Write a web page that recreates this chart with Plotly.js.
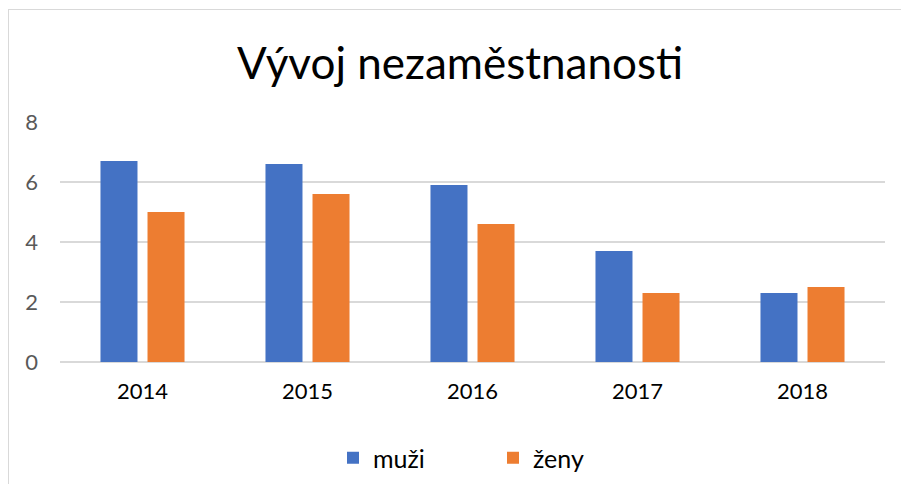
<!DOCTYPE html>
<html>
<head>
<meta charset="utf-8">
<script src="https://cdn.plot.ly/plotly-3.0.1.min.js"></script>
<style>
  html, body { margin: 0; padding: 0; background: #ffffff; overflow: hidden; }
  #wrap { position: relative; width: 901px; height: 484px; }
  #chart { position: absolute; left: 0; top: 0; width: 901px; height: 484px; }
  #frame { position: absolute; left: 8px; top: 9px; width: 1000px; height: 600px;
           border: 1.5px solid #d9d9d9; pointer-events: none; box-sizing: border-box; }
</style>
</head>
<body>
<div id="wrap">
  <div id="chart"></div>
  <div id="frame"></div>
</div>
<script>
// Data
const chartTitle = "Vývoj nezaměstnanosti";
const years = ["2014", "2015", "2016", "2017", "2018"];
const seriesNames = ["muži", "ženy"];
const muzi = [6.7, 6.6, 5.9, 3.7, 2.3];
const zeny = [5.0, 5.6, 4.6, 2.3, 2.5];
const yTicks = [0, 2, 4, 6, 8];

const FONT = "Lato, 'Open Sans', sans-serif";

const traces = [
  { type: "bar", name: seriesNames[0], x: years, y: muzi,
    marker: { color: "#4472C4" }, hoverinfo: "x+y+name" },
  { type: "bar", name: seriesNames[1], x: years, y: zeny,
    marker: { color: "#ED7D31" }, hoverinfo: "x+y+name" }
];

const layout = {
  width: 901, height: 484,
  paper_bgcolor: "#ffffff", plot_bgcolor: "#ffffff",
  margin: { l: 60, r: 15.5, t: 122, b: 122, pad: 0 },
  font: { family: FONT, color: "#000000" },
  title: {
    text: chartTitle,
    font: { family: FONT, size: 44, color: "#000000" },
    xref: "container", x: 460 / 901, xanchor: "center",
    yref: "container", y: 1 - 64 / 484, yanchor: "middle"
  },
  barmode: "group",
  bargap: 0.43,
  bargroupgap: 0.213,
  xaxis: {
    type: "category",
    showgrid: false, zeroline: false, showline: false,
    ticks: "", ticklabelstandoff: 14,
    tickfont: { family: FONT, size: 22, color: "#000000" },
    fixedrange: true
  },
  yaxis: {
    range: [0, 8],
    tickvals: yTicks, ticktext: yTicks.map(String),
    showgrid: true, gridcolor: "#d9d9d9", gridwidth: 1.5,
    zeroline: true, zerolinecolor: "#d9d9d9", zerolinewidth: 1.5,
    showline: false, ticks: "", ticklabelstandoff: 21,
    tickfont: { family: FONT, size: 22, color: "#595959" },
    fixedrange: true
  },
  showlegend: true,
  legend: {
    orientation: "h",
    xref: "container", x: 333 / 901, xanchor: "left",
    yref: "container", y: 1 - 458 / 484, yanchor: "middle",
    font: { family: FONT, size: 25, color: "#000000" },
    itemwidth: 30,
    entrywidth: 115,
    traceorder: "normal",
    bgcolor: "rgba(0,0,0,0)"
  }
};

Plotly.newPlot("chart", traces, layout, { displayModeBar: false, staticPlot: false });
</script>
</body>
</html>
